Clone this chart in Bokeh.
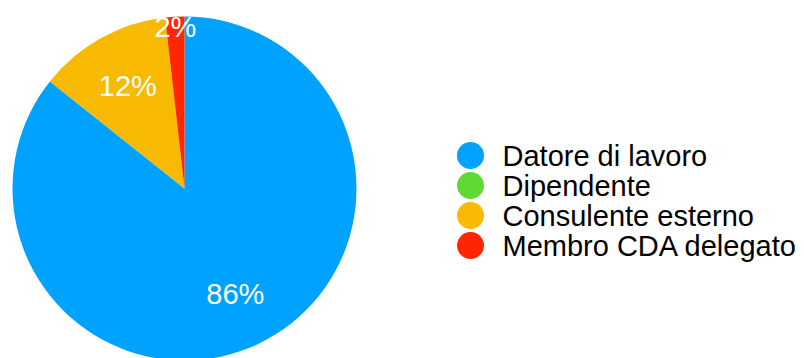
import math
from bokeh.plotting import figure
from bokeh.models import ColumnDataSource, Range1d
from bokeh.core.properties import value
from bokeh.embed import file_html
from bokeh.resources import INLINE

categories = ["Datore di lavoro", "Dipendente", "Consulente esterno", "Membro CDA delegato"]
values = [85.7, 0.0, 12.5, 1.8]
colors = ["#00A2FF", "#61D836", "#F8BA00", "#FF2600"]

W, H = 804, 358
FONT = "Liberation Sans"

p = figure(width=W, height=H, output_backend="svg", toolbar_location=None,
           x_range=Range1d(0, W), y_range=Range1d(0, H), min_border=0)
p.axis.visible = False
p.grid.visible = False
p.outline_line_color = None

cx, cy, r = 184, H - 188, 172
total = sum(values)
starts, ends, wc, lx, ly, lt = [], [], [], [], [], []
cum = 0.0
for v, c in zip(values, colors):
    frac = v / total
    a0 = math.pi / 2 - cum * 2 * math.pi
    a1 = math.pi / 2 - (cum + frac) * 2 * math.pi
    cum += frac
    if v <= 0:
        continue
    starts.append(a0)
    ends.append(a1)
    wc.append(c)
    mid = (a0 + a1) / 2
    rf = 0.94 if frac < 0.05 else 0.68
    lx.append(cx + rf * r * math.cos(mid))
    ly.append(cy + rf * r * math.sin(mid))
    lt.append("%.0f%%" % (frac * 100))

src = ColumnDataSource(dict(start=starts, end=ends, color=wc))
p.wedge(x=cx, y=cy, radius=r, start_angle="start", end_angle="end",
        direction="clock", fill_color="color", line_color=None, source=src)
p.text(x=lx, y=ly, text=lt, text_color="white", text_font=value(FONT),
       text_font_size="29px", text_align="center", text_baseline="middle")

# legend
lg_x, lg_y0, step = 470, H - 155, 30
lgy = [lg_y0 - i * step for i in range(len(categories))]
p.scatter(x=[lg_x] * len(categories), y=lgy, size=27, marker="circle",
          fill_color=colors, line_color=None)
p.text(x=[lg_x + 32] * len(categories), y=lgy, text=categories, text_color="black",
       text_font=value(FONT), text_font_size="29px", text_align="left",
       text_baseline="middle")

open("out.html", "w").write(file_html(p, INLINE))
